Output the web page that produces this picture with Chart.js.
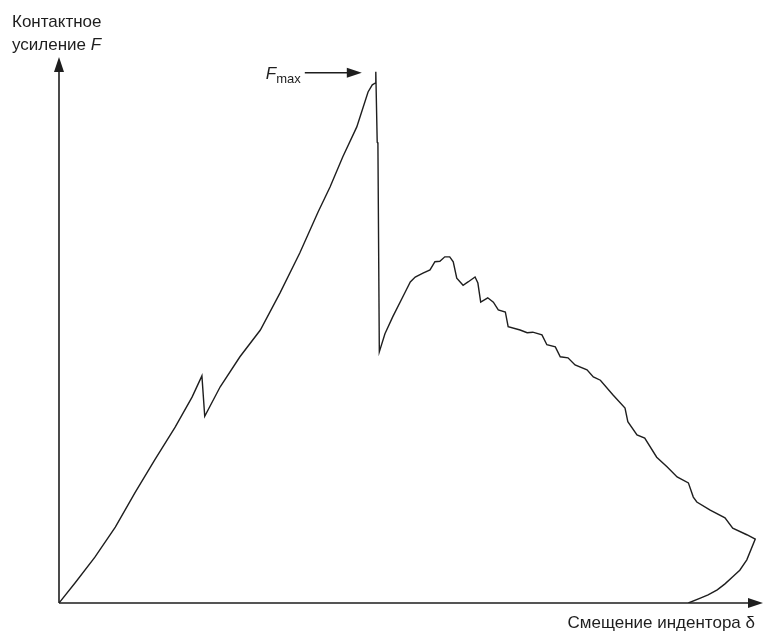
<!DOCTYPE html>
<html>
<head>
<meta charset="utf-8">
<script src="https://cdn.jsdelivr.net/npm/chart.js@4/dist/chart.umd.min.js"></script>
<style>
  html, body { margin: 0; padding: 0; background: #fff; }
  canvas { display: block; }
</style>
</head>
<body>
<canvas id="chart" width="771" height="634"></canvas>
<script>
// indenter displacement (relative units, 0..100 = axis length)
const displacement = [
  0, 2.3, 5.1, 8.0, 10.8, 13.6, 16.5, 18.9, 20.3, 20.7,
  22.9, 25.7, 28.6, 31.4, 34.2, 36.8, 38.5, 40.3, 42.3, 43.9,
  44.5, 44.9, 45.0, 45.2, 45.3, 45.5,
  46.3, 47.4, 49.2, 49.9, 50.6, 51.7, 52.7, 53.4, 54.1, 54.8, 55.5,
  56.0, 56.5, 57.4, 58.1, 59.1, 59.5, 59.9, 60.9, 61.7, 62.4,
  63.4, 63.8, 65.5, 66.5, 67.3, 68.6, 69.3, 70.5, 71.2, 72.3,
  73.3, 75.0, 75.9, 76.9, 78.7, 80.4, 80.8, 82.1, 83.2, 84.9,
  86.4, 87.8, 89.4, 90.1, 90.6, 92.5, 94.6, 95.7, 97.7, 98.9,
  97.7, 96.7, 95.7, 94.6, 93.5, 92.2, 91.1, 89.4
];
// contact force (relative units, 0..100 = axis length)
const force = [
  0, 3.7, 8.4, 13.9, 20.2, 26.2, 32.2, 37.7, 41.6, 34.2,
  39.6, 45.1, 50.0, 56.8, 64.1, 71.6, 76.2, 81.7, 87.2, 93.6,
  94.9, 95.2, 97.3, 84.4, 84.2, 46.0,
  49.3, 52.4, 57.0, 58.8, 59.7, 60.4, 61.0, 62.5, 62.6, 63.4, 63.4,
  62.5, 59.5, 58.2, 58.8, 59.7, 58.6, 55.1, 55.9, 55.1, 53.7,
  53.3, 50.6, 50.0, 49.5, 49.6, 49.1, 47.3, 46.9, 45.1, 44.9,
  43.6, 42.7, 41.4, 40.8, 38.1, 35.7, 33.2, 30.8, 30.2, 26.7,
  24.9, 23.1, 22.0, 19.4, 18.5, 17.0, 15.6, 13.7, 12.5, 11.7,
  7.9, 6.0, 4.8, 3.5, 2.4, 1.5, 0.9, 0
];

const yTitle = ['Контактное', 'усиление '];
const yTitleVar = 'F';
const xTitle = 'Смещение индентора δ';
const peakVar = 'F';
const peakSub = 'max';

const points = displacement.map((x, i) => ({ x: x, y: force[i] }));

const FONT = '"Liberation Sans", Arial, sans-serif';
const INK = '#1e1e1e';

function arrowHead(ctx, x, y, dir) {
  // dir: 'up' or 'right'
  ctx.beginPath();
  if (dir === 'up') {
    ctx.moveTo(x, y);
    ctx.lineTo(x - 5, y + 15);
    ctx.lineTo(x + 5, y + 15);
  } else {
    ctx.moveTo(x, y);
    ctx.lineTo(x - 15, y - 5);
    ctx.lineTo(x - 15, y + 5);
  }
  ctx.closePath();
  ctx.fill();
}

const axesPlugin = {
  id: 'arrowAxes',
  afterDatasetsDraw(chart) {
    const { ctx, scales } = chart;
    const xs = scales.x, ys = scales.y;
    const x0 = xs.getPixelForValue(0), y0 = ys.getPixelForValue(0);
    const xEnd = xs.getPixelForValue(xs.max), yEnd = ys.getPixelForValue(ys.max);

    ctx.save();
    ctx.strokeStyle = INK;
    ctx.fillStyle = INK;
    ctx.lineWidth = 1.6;
    ctx.beginPath();
    ctx.moveTo(x0, y0);
    ctx.lineTo(x0, yEnd + 10);
    ctx.moveTo(x0, y0);
    ctx.lineTo(xEnd - 10, y0);
    ctx.stroke();
    arrowHead(ctx, x0, yEnd, 'up');
    arrowHead(ctx, xEnd, y0, 'right');

    // y title
    ctx.font = '17px ' + FONT;
    ctx.textBaseline = 'alphabetic';
    ctx.textAlign = 'left';
    ctx.fillText(yTitle[0], 12, 27);
    ctx.fillText(yTitle[1], 12, 50);
    const w = ctx.measureText(yTitle[1]).width;
    ctx.font = 'italic 17px ' + FONT;
    ctx.fillText(yTitleVar, 12 + w, 50);

    // x title
    ctx.font = '17px ' + FONT;
    ctx.textAlign = 'right';
    ctx.fillText(xTitle, xEnd - 8, 628);

    // F_max pointer at the highest point
    let iMax = 0;
    force.forEach((f, i) => { if (f > force[iMax]) iMax = i; });
    const px = xs.getPixelForValue(displacement[iMax]);
    const py = ys.getPixelForValue(force[iMax]) + 1;
    const tip = px - 14, tail = tip - 57;
    ctx.lineWidth = 1.6;
    ctx.beginPath();
    ctx.moveTo(tail, py);
    ctx.lineTo(tip - 10, py);
    ctx.stroke();
    arrowHead(ctx, tip, py, 'right');
    ctx.textAlign = 'left';
    ctx.font = '13px ' + FONT;
    const sw = ctx.measureText(peakSub).width;
    ctx.font = 'italic 17px ' + FONT;
    const fw = ctx.measureText(peakVar).width;
    const tx = tail - 4 - sw - fw;
    ctx.fillText(peakVar, tx, py + 6);
    ctx.font = '13px ' + FONT;
    ctx.fillText(peakSub, tx + fw, py + 10);
    ctx.restore();
  }
};

new Chart(document.getElementById('chart'), {
  type: 'scatter',
  data: {
    datasets: [{
      data: points,
      showLine: true,
      borderColor: INK,
      borderWidth: 1.4,
      pointRadius: 0,
      tension: 0,
      fill: false
    }]
  },
  options: {
    responsive: false,
    animation: false,
    layout: { padding: { left: 59, right: 8, top: 57, bottom: 31 } },
    plugins: {
      legend: { display: false },
      tooltip: { enabled: false }
    },
    scales: {
      x: { type: 'linear', min: 0, max: 100, display: false },
      y: { type: 'linear', min: 0, max: 100, display: false }
    }
  },
  plugins: [axesPlugin]
});
</script>
</body>
</html>
